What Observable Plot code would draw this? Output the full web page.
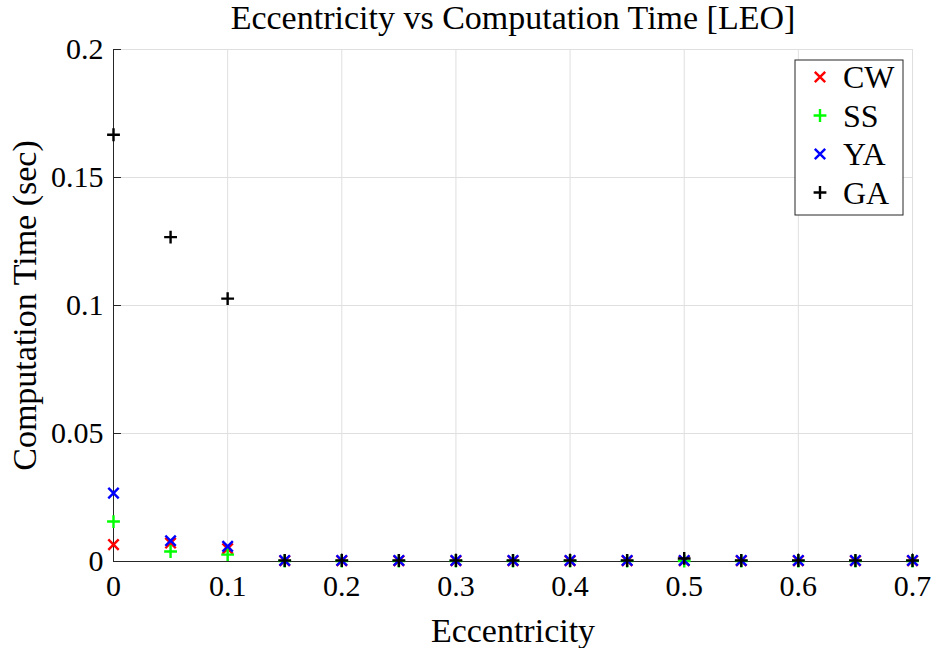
<!DOCTYPE html>
<html>
<head>
<meta charset="utf-8">
<script src="https://cdn.jsdelivr.net/npm/d3@7"></script>
<script src="https://cdn.jsdelivr.net/npm/@observablehq/plot@0.6"></script>
<style>
  html, body { margin: 0; padding: 0; background: #fff; }
  #chart { position: relative; width: 936px; height: 648px; }
</style>
</head>
<body>
<div id="chart"></div>
<script>
// Eccentricity sweep, 0 to 0.7
const eccentricity = [0, 0.05, 0.1, 0.15, 0.2, 0.25, 0.3, 0.35, 0.4, 0.45, 0.5, 0.55, 0.6, 0.65, 0.7];

// Computation time (sec) per method
const timeCW = [0.0066, 0.0072, 0.0050, 0.0003, 0.0003, 0.0003, 0.0003, 0.0003, 0.0003, 0.0003, 0.0003, 0.0003, 0.0003, 0.0003, 0.0003];
const timeSS = [0.0156, 0.0039, 0.0027, 0.0002, 0.0002, 0.0002, 0.0002, 0.0002, 0.0002, 0.0002, 0.0002, 0.0002, 0.0002, 0.0002, 0.0002];
const timeYA = [0.0267, 0.0081, 0.0059, 0.0004, 0.0004, 0.0004, 0.0004, 0.0004, 0.0004, 0.0004, 0.0004, 0.0004, 0.0004, 0.0004, 0.0004];
const timeGA = [0.1667, 0.1267, 0.1027, 0.0004, 0.0004, 0.0004, 0.0004, 0.0004, 0.0004, 0.0004, 0.0012, 0.0004, 0.0004, 0.0004, 0.0004];

const methods = ["CW", "SS", "YA", "GA"];
const methodColors = ["#ff0000", "#00ff00", "#0000ff", "#000000"];
const methodSymbols = ["times", "plus", "times", "plus"];

const xTicks = [0, 0.1, 0.2, 0.3, 0.4, 0.5, 0.6, 0.7];
const yTicks = [0, 0.05, 0.1, 0.15, 0.2];

const series = [timeCW, timeSS, timeYA, timeGA];
const rows = [];
methods.forEach((m, k) => {
  eccentricity.forEach((e, i) => rows.push({method: m, e, t: series[k][i]}));
});

const font = '"Liberation Serif", "DejaVu Serif", serif';
const symR = {times: 4.8, plus: 4.2};
const axisColor = "#262626";

const plot = Plot.plot({
  width: 936,
  height: 648,
  marginLeft: 113,
  marginRight: 24,
  marginTop: 49,
  marginBottom: 87,
  style: {fontFamily: font, fontSize: "30px", color: "#000", background: "#fff"},
  x: {domain: [0, 0.7]},
  y: {domain: [0, 0.2]},
  marks: [
    Plot.gridX(xTicks, {stroke: "#dfdfdf", strokeOpacity: 1}),
    Plot.gridY(yTicks, {stroke: "#dfdfdf", strokeOpacity: 1}),
    Plot.axisX(xTicks, {tickSize: 0, tickPadding: 13, label: null, tickFormat: d => String(d), fontSize: 30}),
    Plot.axisY(yTicks, {tickSize: 0, tickPadding: 10, label: null, tickFormat: d => String(d), fontSize: 30}),
    // short inward tick marks
    Plot.ruleX(xTicks, {x: d => d, y1: 0, y2: 0.003, stroke: axisColor}),
    Plot.ruleY(yTicks, {y: d => d, x1: 0, x2: 0.007, stroke: axisColor}),
    Plot.ruleY([0], {stroke: axisColor}),
    Plot.ruleX([0], {stroke: axisColor}),
    ...methods.map((m, k) => Plot.dot(rows.filter(r => r.method === m), {
      x: "e", y: "t", symbol: () => methodSymbols[k], r: symR[methodSymbols[k]],
      stroke: methodColors[k], strokeWidth: 2.4
    })),
    Plot.text(["Eccentricity vs Computation Time [LEO]"], {frameAnchor: "top", dy: -45, fontSize: 34}),
    Plot.text(["Eccentricity"], {frameAnchor: "bottom", dy: 80, fontSize: 34}),
    Plot.text(["Computation Time (sec)"], {frameAnchor: "left", textAnchor: "middle", dx: -88, rotate: -90, fontSize: 34})
  ]
});

// legend box, top-right
const svg = d3.select(plot);
const lg = svg.append("g").attr("transform", "translate(795,60)");
lg.append("rect").attr("width", 108).attr("height", 155)
  .attr("fill", "#fff").attr("stroke", axisColor).attr("stroke-width", 1);
methods.forEach((m, k) => {
  const y = 17 + k * 38.5;
  const sym = methodSymbols[k] === "times" ? d3.symbolTimes : d3.symbolPlus;
  const size = Math.PI * symR[methodSymbols[k]] ** 2;
  lg.append("path").attr("d", d3.symbol(sym, size)())
    .attr("transform", `translate(25,${y})`)
    .attr("fill", "none").attr("stroke", methodColors[k]).attr("stroke-width", 2.4);
  lg.append("text").attr("x", 48).attr("y", y).attr("dy", "0.35em")
    .attr("text-anchor", "start")
    .attr("font-family", font).attr("font-size", 32).text(m);
});

document.getElementById("chart").appendChild(plot);
</script>
</body>
</html>
